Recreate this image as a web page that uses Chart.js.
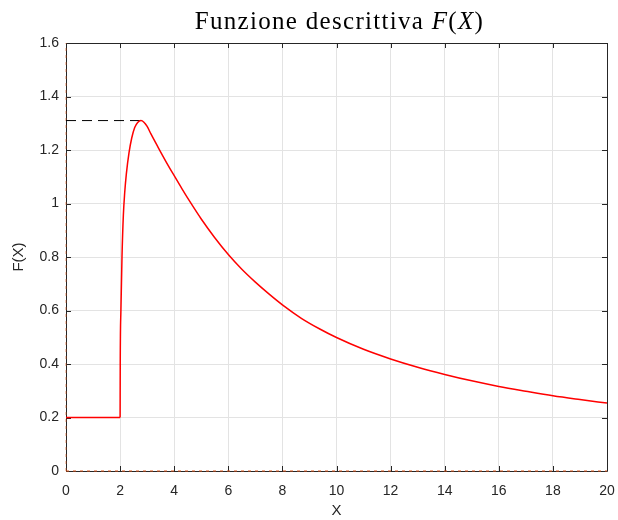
<!DOCTYPE html>
<html>
<head>
<meta charset="utf-8">
<script src="https://cdn.jsdelivr.net/npm/chart.js@4"></script>
<style>
  html, body { margin: 0; padding: 0; background: #ffffff; }
  #wrap { width: 618px; height: 520px; }
</style>
</head>
<body>
<div id="wrap"><canvas id="c" width="618" height="520"></canvas></div>
<script>
// Describing function F(X) sampled along the amplitude X
const amplitudeX = [0, 2, 2.005, 2.03, 2.07, 2.12, 2.17, 2.23, 2.33, 2.43, 2.54, 2.65, 2.77, 2.88, 3.0, 3.14, 3.4, 3.7, 4.0, 4.3, 4.6, 5.0, 5.5, 6.0, 6.5, 7.0, 7.5, 8.0, 8.7, 9.4, 10, 11, 12, 13, 14, 15, 16, 17, 18, 19, 20];
const describingF = [0.2, 0.2, 0.4, 0.6, 0.8, 0.955, 1.04, 1.11, 1.19, 1.245, 1.284, 1.303, 1.31, 1.304, 1.288, 1.26, 1.211, 1.156, 1.104, 1.053, 1.004, 0.942, 0.872, 0.809, 0.754, 0.706, 0.662, 0.621, 0.571, 0.53, 0.499, 0.455, 0.419, 0.388, 0.361, 0.337, 0.316, 0.298, 0.281, 0.267, 0.254];

// Peak marker (dashed guide from the F axis to the maximum)
const peakX = 2.77;
const peakF = 1.31;

// Axis ticks
const xTicks = [0, 2, 4, 6, 8, 10, 12, 14, 16, 18, 20];
const yTicks = [0, 0.2, 0.4, 0.6, 0.8, 1, 1.2, 1.4, 1.6];

const AXIS_COLOR = '#262626';
const GRID_COLOR = '#e3e3e3';
const SANS = '"Liberation Sans", Arial, Helvetica, sans-serif';

const flatPart = [{x: amplitudeX[0], y: describingF[0]}, {x: amplitudeX[1], y: describingF[1]}];
const curvePart = amplitudeX.slice(1).map((x, i) => ({x: x, y: describingF[i + 1]}));

// Box with inward ticks, drawn beneath the data like MATLAB axes
const boxPlugin = {
  id: 'boxPlugin',
  beforeDatasetsDraw(chart) {
    const {ctx, chartArea: a, scales} = chart;
    ctx.save();
    ctx.strokeStyle = AXIS_COLOR;
    ctx.lineWidth = 1;
    ctx.beginPath();
    ctx.rect(Math.round(a.left) + 0.5, Math.round(a.top) + 0.5, Math.round(a.right - a.left), Math.round(a.bottom - a.top));
    ctx.stroke();
    const tl = 5;
    ctx.beginPath();
    xTicks.forEach(v => {
      const px = Math.round(scales.x.getPixelForValue(v)) + 0.5;
      ctx.moveTo(px, a.bottom); ctx.lineTo(px, a.bottom - tl);
      ctx.moveTo(px, a.top); ctx.lineTo(px, a.top + tl);
    });
    yTicks.forEach(v => {
      const py = Math.round(scales.y.getPixelForValue(v)) + 0.5;
      ctx.moveTo(a.left, py); ctx.lineTo(a.left + tl, py);
      ctx.moveTo(a.right, py); ctx.lineTo(a.right - tl, py);
    });
    ctx.stroke();
    ctx.restore();
  }
};

// Title: roman text, then F(X) with italic letters and upright parentheses
const titlePlugin = {
  id: 'titlePlugin',
  afterDraw(chart) {
    const {ctx, chartArea: a} = chart;
    const parts = [
      {t: 'Funzione descrittiva ', it: false},
      {t: 'F', it: true},
      {t: '(', it: false},
      {t: 'X', it: true},
      {t: ')', it: false}
    ];
    const size = 25;
    const fontOf = it => (it ? 'italic ' : '') + size + 'px "Liberation Serif", "Times New Roman", serif';
    ctx.save();
    if ('letterSpacing' in ctx) ctx.letterSpacing = '1.3px';
    ctx.fillStyle = '#000000';
    ctx.textBaseline = 'alphabetic';
    ctx.textAlign = 'left';
    let total = 0;
    parts.forEach(p => { ctx.font = fontOf(p.it); p.w = ctx.measureText(p.t).width; total += p.w; });
    let x = (a.left + a.right) / 2 + 3 - total / 2;
    parts.forEach(p => { ctx.font = fontOf(p.it); ctx.fillText(p.t, x, 29); x += p.w; });
    ctx.restore();
  }
};

new Chart(document.getElementById('c'), {
  type: 'scatter',
  data: {
    datasets: [
      {
        label: 'F(X) costante',
        data: flatPart,
        showLine: true,
        borderColor: '#ff0000',
        borderWidth: 1.5,
        pointRadius: 0,
        clip: 4,
        order: 1
      },
      {
        label: 'F(X)',
        data: curvePart,
        showLine: true,
        borderColor: '#ff0000',
        borderWidth: 1.5,
        pointRadius: 0,
        cubicInterpolationMode: 'monotone',
        clip: 4,
        order: 1
      },
      {
        label: 'massimo',
        data: [{x: 0, y: peakF}, {x: peakX, y: peakF}],
        showLine: true,
        borderColor: '#000000',
        borderWidth: 1,
        borderDash: [10, 6],
        pointRadius: 0,
        clip: 4,
        order: 2
      },
      {
        label: 'asse X',
        data: [{x: 0, y: 0}, {x: 20, y: 0}],
        showLine: true,
        borderColor: '#d95319',
        borderWidth: 1,
        borderDash: [3, 4],
        pointRadius: 0,
        clip: 4,
        order: 3
      },
      {
        label: 'asse F',
        data: [{x: 0, y: 0}, {x: 0, y: 1.6}],
        showLine: true,
        borderColor: 'rgba(217,83,25,0.6)',
        borderWidth: 1,
        borderDash: [3, 4],
        pointRadius: 0,
        clip: 4,
        order: 3
      }
    ]
  },
  options: {
    responsive: false,
    animation: false,
    devicePixelRatio: 1,
    layout: { padding: { top: 43, right: 11, left: 0, bottom: 0 } },
    plugins: {
      legend: { display: false },
      tooltip: { enabled: false },
      title: { display: false }
    },
    scales: {
      x: {
        type: 'linear',
        min: 0,
        max: 20,
        afterFit(s) { s.height = 49; s.paddingLeft = 0; s.paddingRight = 0; },
        afterBuildTicks(s) { s.ticks = xTicks.map(v => ({value: v})); },
        grid: { color: GRID_COLOR, lineWidth: 1, drawTicks: false },
        border: { display: false },
        ticks: {
          padding: 12,
          color: AXIS_COLOR,
          font: { family: SANS, size: 14 },
          maxRotation: 0
        },
        title: {
          display: true,
          text: 'X',
          color: AXIS_COLOR,
          font: { family: SANS, size: 15 },
          padding: { top: 0, bottom: 0 }
        }
      },
      y: {
        type: 'linear',
        min: 0,
        max: 1.6,
        afterFit(s) { s.width = 66; s.paddingTop = 0; s.paddingBottom = 0; },
        afterBuildTicks(s) { s.ticks = yTicks.map(v => ({value: v})); },
        grid: { color: GRID_COLOR, lineWidth: 1, drawTicks: false },
        border: { display: false },
        ticks: {
          padding: 7,
          color: AXIS_COLOR,
          font: { family: SANS, size: 14 },
          callback: v => String(Math.round(v * 10) / 10)
        },
        title: {
          display: true,
          text: 'F(X)',
          color: AXIS_COLOR,
          font: { family: SANS, size: 15 },
          padding: { top: 10, bottom: 0 }
        }
      }
    }
  },
  plugins: [boxPlugin, titlePlugin]
});
</script>
</body>
</html>
